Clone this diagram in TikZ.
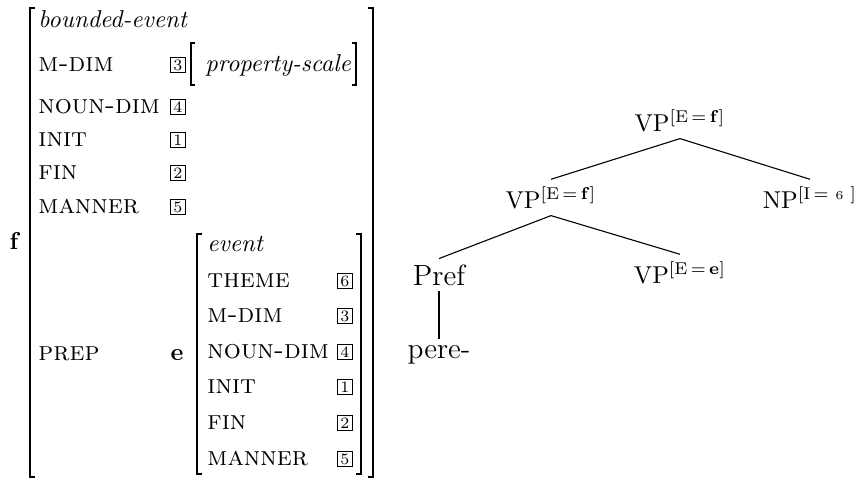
\documentclass[tikz,border=0pt]{standalone}
\usepackage{amsmath}
% feature superscript on a tree label: [F=v]
\newcommand\fsup[2]{$^{[\mathrm{#1}\mkern3mu=\mkern3mu#2]}$}
\begin{document}
\begin{tikzpicture}[x=0.41pt,y=-0.41pt,
  lab/.style={anchor=base west,inner sep=0pt,font=\fontsize{11}{13}\selectfont\scshape},
  typ/.style={anchor=base west,inner sep=0pt,font=\itshape},
  tag/.style={draw,line width=0.4pt,inner sep=0pt,minimum width=6.3pt,minimum height=6.3pt,font=\fontsize{6.5}{6.5}\selectfont},
  brk/.style={line width=0.6pt},
  idx/.style={anchor=base,inner sep=0pt,font=\bfseries},
  cat/.style={anchor=base,inner sep=2.7pt},
  word/.style={anchor=base,inner sep=2.2pt,font=\fontsize{12}{14}\selectfont},
  branch/.style={line width=0.45pt}]
\useasboundingbox (0,0) rectangle (863,479);

% ---------- outer structure f ----------
\node[idx] (f) at (14,249) {f};
\draw[brk] (35,8) -- (30,8) -- (30,477) -- (35,477);
\draw[brk] (368,8) -- (373,8) -- (373,477) -- (368,477);

\node[typ] (bev) at (38,27) {bounded-event};
\node[lab] (mdimA) at (38,71) {m-dim};
\node[tag] (tA3) at (178,65) {3};
\draw[brk] (195,43) -- (191,43) -- (191,85) -- (195,85);
\node[typ] (ps) at (205,71) {property-scale};
\draw[brk] (352,43) -- (356,43) -- (356,85) -- (352,85);
\node[lab] (ndimA) at (38,113) {noun-dim};
\node[tag] (tA4) at (178,107) {4};
\node[lab] (initA) at (38,146) {init};
\node[tag] (tA1) at (178,140) {1};
\node[lab] (finA) at (38,179) {fin};
\node[tag] (tA2) at (178,173) {2};
\node[lab] (manA) at (38,213) {manner};
\node[tag] (tA5) at (178,207) {5};
\node[lab] (prep) at (38,360) {prep};

% ---------- embedded structure e ----------
\node[idx] (e) at (177,360) {e};
\draw[brk] (202,234) -- (197,234) -- (197,474) -- (202,474);
\draw[brk] (356,234) -- (361,234) -- (361,474) -- (356,474);

\node[typ] (ev) at (207,251) {event};
\node[lab] (theme) at (207,287) {theme};
\node[tag] (tB6) at (345,281) {6};
\node[lab] (mdimB) at (207,322) {m-dim};
\node[tag] (tB3) at (345,316) {3};
\node[lab] (ndimB) at (207,358) {noun-dim};
\node[tag] (tB4) at (345,352) {4};
\node[lab] (initB) at (207,393) {init};
\node[tag] (tB1) at (345,387) {1};
\node[lab] (finB) at (207,429) {fin};
\node[tag] (tB2) at (345,423) {2};
\node[lab] (manB) at (207,465) {manner};
\node[tag] (tB5) at (345,459) {5};

% ---------- tree ----------
\node[cat] (vpA) at (680,131) {VP\fsup{E}{\mathbf{f}}};
\node[cat] (vpB) at (551,208) {VP\fsup{E}{\mathbf{f}}};
\node[cat] (np)  at (810,208) {NP\fsup{I}{\mkern3mu{\scriptscriptstyle 6}\mkern6mu}};
\node[word] (pref) at (439,285) {Pref};
\node[cat] (vpC) at (680,283) {VP\fsup{E}{\mathbf{e}}};
\node[word] (pere) at (439,358) {pere-};

\draw[branch] (vpA.south) -- (vpB.north);
\draw[branch] (vpA.south) -- (np.north);
\draw[branch] (vpB.south) -- (pref.north);
\draw[branch] (vpB.south) -- (vpC.north);
\draw[branch] (pref.south) -- (pere.north);
\end{tikzpicture}
\end{document}
